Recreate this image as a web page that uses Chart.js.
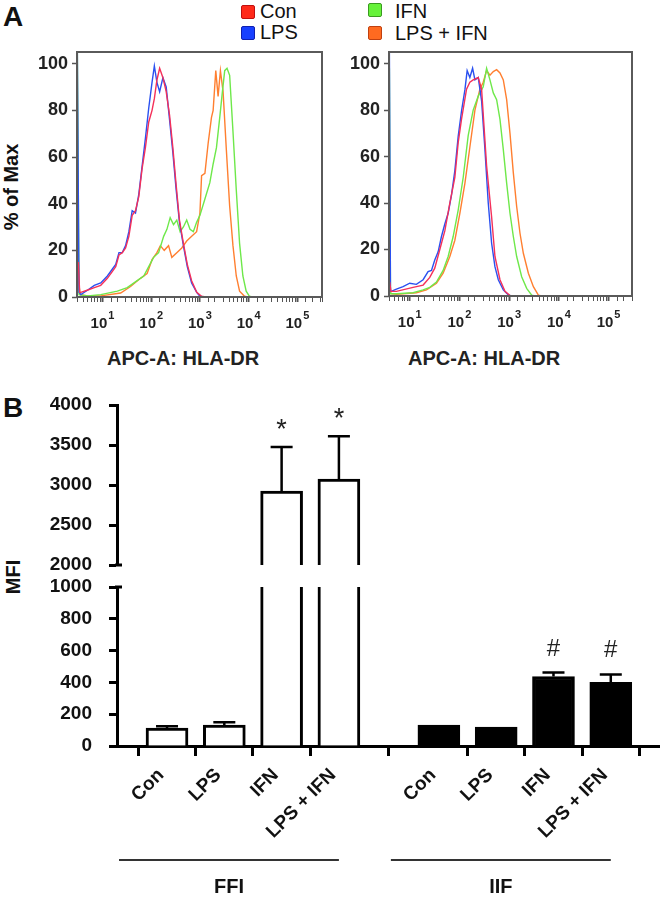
<!DOCTYPE html>
<html>
<head>
<meta charset="utf-8">
<script src="https://cdn.jsdelivr.net/npm/chart.js@4.4.1/dist/chart.umd.min.js"></script>
<style>
  body { margin: 0; background: #fff; font-family: "Liberation Sans", Arial, sans-serif; }
  #wrap { position: relative; width: 660px; height: 897px; overflow: hidden; background: #fff; }
  canvas { position: absolute; }
  .t { position: absolute; line-height: 1; white-space: nowrap; color: #111; }
  .b { font-weight: bold; }
  .sq { position: absolute; width: 12px; height: 12px; border-radius: 2px; }
  .rot { transform: translate(-50%, -50%) rotate(-90deg); }
</style>
</head>
<body>
<div id="wrap">
  <div class="t b" style="left:3px;top:3px;font-size:28px;">A</div>
  <div class="t b" style="left:3px;top:394px;font-size:28px;">B</div>

  <div class="sq" style="left:241px;top:5px;background:#ff2a1a;border:1px solid #c01010;"></div>
  <div class="t" style="left:260px;top:1px;font-size:20px;">Con</div>
  <div class="sq" style="left:241px;top:26px;background:#1840ff;border:1px solid #1020b0;"></div>
  <div class="t" style="left:260px;top:22px;font-size:20px;">LPS</div>
  <div class="sq" style="left:368px;top:3px;background:#66f23a;border:1px solid #3a9a20;"></div>
  <div class="t" style="left:395px;top:1px;font-size:20px;">IFN</div>
  <div class="sq" style="left:368px;top:26px;background:#ff6a20;border:1px solid #c04010;"></div>
  <div class="t" style="left:395px;top:23px;font-size:20px;">LPS + IFN</div>

  <div class="t b rot" style="left:11px;top:187px;font-size:20px;">% of Max</div>
  <div class="t b" style="left:107px;top:348px;font-size:20px;color:#222;">APC-A: HLA-DR</div>
  <div class="t b" style="left:408px;top:348px;font-size:20px;color:#222;">APC-A: HLA-DR</div>
  <div class="t b rot" style="left:13px;top:577px;font-size:20px;">MFI</div>

  <canvas id="histL" width="330" height="340" style="left:0;top:0;"></canvas>
  <canvas id="histR" width="330" height="340" style="left:330px;top:0;"></canvas>
  <canvas id="barTop" width="660" height="185" style="left:0;top:390px;"></canvas>
  <canvas id="barBottom" width="660" height="322" style="left:0;top:575px;"></canvas>
</div>
<script>
// ---- panel A: HLA-DR histograms, [intensity, % of max] ----
const histColors = { con: '#f4305a', lps: '#2a50f0', ifn: '#6ee84a', lpsIfn: '#ff7f30' };

const leftCon = [[3.2,15],[3.4,2],[3.6,2],[5.0,3],[6.8,4],[9.2,5],[12.6,8],[16,11],[18.7,13],[21.8,18],[25.5,19],[29.8,21],[34.8,26],[40.7,35],[47.6,37],[55.6,43],[65,55],[76,64],[89,75],[104,80],[116,85],[131,93],[149,98],[174,94],[203,88],[238,78],[278,64],[325,48],[380,33],[458,23],[550,14],[675,7],[860,2],[1080,0.3],[1300,0],[10000,0]];
const leftLps = [[3.05,105],[3.3,2],[3.6,1],[5.0,3],[6.8,5],[9.2,6],[12.6,9],[16,12],[18.7,14],[21.8,19],[25.5,19],[29.8,22],[34.8,28],[40.7,37],[47.6,36],[55.6,44],[65,56],[76,68],[89,81],[104,92],[116,99],[131,92],[149,88],[174,94],[203,90],[238,76],[278,62],[325,46],[380,32],[458,22],[550,13],[675,6],[860,2],[1000,0.3],[1200,0],[10000,0]];
const leftIfn = [[3.05,105],[3.3,1],[5,0.5],[9.2,1],[20.2,2.5],[32.2,4],[51.5,7],[70.3,9],[88.9,13],[112,17],[142,19],[180,26],[210,29],[245,34],[287,31],[335,33],[392,28],[458,30],[535,33],[626,29],[732,28],[855,32],[1000,35],[1265,42],[1597,49],[1867,57],[2183,64],[2552,77],[2893,88],[3224,97],[3597,98],[4074,95],[4763,71],[5569,46],[6512,23],[7610,9],[8895,2.5],[10400,0.3],[12000,0],[320000,0]];
const leftLpsIfn = [[3.2,7],[3.5,1],[5,0.5],[9.2,0.5],[23.6,1.7],[37.7,4.5],[60.2,8],[82.3,10],[104,16],[131,19],[154,22],[185,20],[227,22],[265,17],[335,19],[424,21],[535,24],[677,26],[855,28],[1000,36],[1081,52],[1265,53],[1477,66],[1726,77],[1867,80],[2115,97],[2359,86],[2633,97],[2985,88],[3487,63],[4074,39],[4763,22],[5569,9],[6512,2.5],[8230,0.3],[9500,0],[320000,0]];

const rightCon = [[3.95,6],[4.2,2],[5.39,2],[11.7,3.7],[18.6,4.7],[25.3,8],[31.9,12],[40.3,20],[50.8,28],[64.1,40],[80.9,51],[94.4,66],[110,76],[139,89],[162,92],[189,93],[239,94],[279,89],[352,56],[444,34],[518,17],[654,7],[824,2],[1040,0.2],[1200,0],[3000,0]];
const rightLps = [[3.9,105],[4.1,2],[4.27,2],[5.39,3],[7.35,4],[10,5.5],[13.6,5],[18.6,7],[23.4,10.5],[27.4,11],[31.9,15.5],[37.3,19],[43.5,25.6],[50.8,31],[59.3,35.6],[69.3,43.5],[80.9,54],[94.4,68.7],[110,79.5],[129,88.8],[143,97],[162,94],[184,98],[205,93],[239,94],[279,84],[326,63],[380,40],[444,22.7],[518,12.6],[605,7],[763,2.6],[962,0.5],[1100,0],[3000,0]];
const rightIfn = [[3.9,98],[4.1,1],[5.39,1],[11.7,1.4],[18.6,2.6],[25.3,3.7],[34.5,6],[47,11],[59.3,17],[74.8,25.6],[94.4,37],[119,51],[150,69],[189,80],[239,86],[301,90],[352,98],[411,93],[480,87.4],[560,84.5],[654,76],[763,63],[891,48.6],[1040,35.6],[1214,25.6],[1417,17],[1786,8.3],[2252,3.3],[2844,0.4],[3300,0],[300000,0]];
const rightLpsIfn = [[3.95,4],[4.2,1],[5.39,0.7],[13.6,1.4],[21.7,2.6],[34.5,5.5],[47,9.8],[64.1,17],[80.9,24],[102,35.6],[129,48.6],[162,64],[205,80],[258,89],[301,92],[352,97],[411,95],[480,96.6],[560,97.4],[654,96],[763,93],[891,84.5],[1040,70],[1214,53],[1417,38.5],[1653,27],[1930,18.4],[2437,9.8],[3072,4],[3873,0.4],[4500,0],[300000,0]];

const histYTicks = [0, 20, 40, 60, 80, 100];
const histDecades = [1, 2, 3, 4, 5];

// ---- panel B: MFI bars ----
const barCats = ['Con', 'LPS', 'IFN', 'LPS + IFN'];
const groups = ['FFI', 'IIF'];
const ffiMean = [112, 131, 2925, 3075];
const ffiErr = [13, 19, 550, 535];
const iifMean = [131, 119, 437, 400];
const iifErr = [0, 0, 25, 50];
const ffiMarks = ['', '', '*', '*'];
const iifMarks = ['', '', '#', '#'];
const groupFill = ['#ffffff', '#000000'];

Chart.defaults.font.family = '"Liberation Sans", Arial, sans-serif';
Chart.defaults.color = '#111';
const FONT = '"Liberation Sans", Arial, sans-serif';

const isDecade = v => v >= 10 && Math.abs(Math.log10(v) - Math.round(Math.log10(v))) < 1e-6;

const framePlugin = {
  id: 'frame',
  afterDatasetsDraw(chart) {
    const a = chart.chartArea, ctx = chart.ctx;
    ctx.save();
    ctx.strokeStyle = '#5a5a5a';
    ctx.lineWidth = 2;
    ctx.strokeRect(a.left, a.top, a.right - a.left, a.bottom - a.top);
    ctx.restore();
  }
};

// "10" with a raised exponent under each decade tick
const decadeLabels = {
  id: 'decadeLabels',
  afterDraw(chart) {
    const { ctx, chartArea: a, scales: { x } } = chart;
    ctx.save();
    ctx.fillStyle = '#222';
    ctx.textBaseline = 'alphabetic';
    ctx.textAlign = 'left';
    histDecades.forEach(d => {
      const px = x.getPixelForValue(Math.pow(10, d));
      ctx.font = 'bold 15px ' + FONT;
      const wBase = ctx.measureText('10').width;
      ctx.font = 'bold 11px ' + FONT;
      const wExp = ctx.measureText(String(d)).width;
      const x0 = px - (wBase + wExp + 1) / 2;
      ctx.font = 'bold 15px ' + FONT;
      ctx.fillText('10', x0, a.bottom + 31);
      ctx.font = 'bold 11px ' + FONT;
      ctx.fillText(String(d), x0 + wBase + 1, a.bottom + 22);
    });
    ctx.restore();
  }
};

function makeHist(id, series, xMin, xMax, yWidth, padRight, xHeight) {
  new Chart(document.getElementById(id), {
    type: 'line',
    data: {
      datasets: series.map(s => ({
        data: s.pts.map(p => ({ x: p[0], y: p[1] })),
        borderColor: s.color,
        borderWidth: 1.4,
        pointRadius: 0,
        fill: false,
        tension: 0
      }))
    },
    options: {
      responsive: false,
      animation: false,
      devicePixelRatio: 1,
      layout: { padding: { top: 52, right: padRight, left: 0, bottom: 0 } },
      plugins: { legend: { display: false }, tooltip: { enabled: false } },
      scales: {
        x: {
          type: 'logarithmic',
          min: xMin,
          max: xMax,
          afterFit: s => { s.height = xHeight; },
          border: { display: false },
          grid: {
            drawOnChartArea: false,
            tickLength: 5,
            tickColor: '#555',
            tickWidth: c => (c.tick && isDecade(c.tick.value)) ? 2 : 1
          },
          ticks: { autoSkip: false, maxRotation: 0, minRotation: 0, callback: () => '' }
        },
        y: {
          min: 0,
          max: 105,
          afterBuildTicks: s => { s.ticks = histYTicks.map(v => ({ value: v })); },
          afterFit: s => { s.width = yWidth; },
          border: { display: false },
          grid: { drawOnChartArea: false, tickLength: 5, tickColor: '#555', tickWidth: 1.5 },
          ticks: { padding: 4, color: '#222', font: { size: 18, weight: 'bold' } }
        }
      }
    },
    plugins: [framePlugin, decadeLabels]
  });
}

makeHist('histL', [
  { pts: leftCon, color: histColors.con },
  { pts: leftLps, color: histColors.lps },
  { pts: leftIfn, color: histColors.ifn },
  { pts: leftLpsIfn, color: histColors.lpsIfn }
], 3, 320000, 77, 8, 43);

makeHist('histR', [
  { pts: rightCon, color: histColors.con },
  { pts: rightLps, color: histColors.lps },
  { pts: rightIfn, color: histColors.ifn },
  { pts: rightLpsIfn, color: histColors.lpsIfn }
], 3.83, 296000, 59, 28, 44);

// bar slots: FFI at 0..3, IIF after a wider gap
const groupGap = 1.745;
const bars = [];
groups.forEach((g, gi) => {
  const means = gi === 0 ? ffiMean : iifMean;
  const errs = gi === 0 ? ffiErr : iifErr;
  const marks = gi === 0 ? ffiMarks : iifMarks;
  barCats.forEach((c, ci) => {
    bars.push({
      x: ci + gi * (barCats.length - 1 + groupGap),
      y: means[ci], err: errs[ci], mark: marks[ci], fill: groupFill[gi], label: c
    });
  });
});

const markOffset = { '*': 9, '#': 17 };

const errorPlugin = {
  id: 'errorBars',
  afterDatasetsDraw(chart) {
    const { ctx, scales: { x, y } } = chart;
    ctx.save();
    ctx.strokeStyle = '#000';
    ctx.lineWidth = 2.5;
    bars.forEach(b => {
      if (!b.err) return;
      const top = b.y + b.err;
      if (top < y.min || top > y.max) return;
      const px = x.getPixelForValue(b.x);
      const y0 = y.getPixelForValue(Math.max(b.y, y.min));
      const y1 = y.getPixelForValue(top);
      ctx.beginPath();
      ctx.moveTo(px, y0);
      ctx.lineTo(px, y1);
      ctx.moveTo(px - 11, y1);
      ctx.lineTo(px + 11, y1);
      ctx.stroke();
      if (b.mark) {
        ctx.fillStyle = '#222';
        ctx.font = (b.mark === '#' ? '24px ' : '27px ') + FONT;
        ctx.textAlign = 'center';
        ctx.textBaseline = 'alphabetic';
        ctx.fillText(b.mark, px, y1 - markOffset[b.mark]);
      }
    });
    ctx.restore();
  }
};

const breakPlugin = {
  id: 'axisBreak',
  afterDraw(chart) {
    const a = chart.chartArea, ctx = chart.ctx;
    const yb = chart.canvas.id === 'barTop' ? a.bottom : a.top;
    ctx.save();
    ctx.strokeStyle = '#000';
    ctx.lineWidth = 3;
    ctx.beginPath();
    ctx.moveTo(a.left - 2, yb);
    ctx.lineTo(a.left + 5, yb);
    ctx.stroke();
    ctx.restore();
  }
};

const groupPlugin = {
  id: 'groupLabels',
  afterDraw(chart) {
    const { ctx, chartArea: a, scales: { x } } = chart;
    ctx.save();
    groups.forEach((g, gi) => {
      const first = bars[gi * barCats.length], last = bars[gi * barCats.length + barCats.length - 1];
      const x1 = x.getPixelForValue(first.x) - 48;
      const x2 = x.getPixelForValue(last.x);
      ctx.strokeStyle = '#333';
      ctx.lineWidth = 2;
      ctx.beginPath();
      ctx.moveTo(x1, a.bottom + 114);
      ctx.lineTo(x2, a.bottom + 114);
      ctx.stroke();
      ctx.fillStyle = '#111';
      ctx.font = 'bold 20px ' + FONT;
      ctx.textAlign = 'center';
      ctx.textBaseline = 'middle';
      ctx.fillText(g, (x1 + x2) / 2, a.bottom + 141);
    });
    ctx.restore();
  }
};

function makeBars(id, yMin, yMax, step, padTop, padBottom, showX) {
  new Chart(document.getElementById(id), {
    type: 'bar',
    data: {
      datasets: [{
        data: bars.map(b => ({ x: b.x, y: b.y })),
        backgroundColor: bars.map(b => b.fill),
        borderColor: '#000',
        borderWidth: 3,
        borderSkipped: 'start',
        barThickness: 42,
        clip: 0
      }]
    },
    options: {
      responsive: false,
      animation: false,
      devicePixelRatio: 1,
      layout: { padding: { top: padTop, bottom: padBottom, left: 0, right: 0 } },
      plugins: { legend: { display: false }, tooltip: { enabled: false } },
      scales: {
        x: {
          type: 'linear',
          display: showX,
          offset: false,
          min: -0.873,
          max: 8.604,
          afterBuildTicks: s => { s.ticks = bars.map(b => ({ value: b.x })); },
          afterFit: s => { s.height = showX ? 151 : 0; },
          border: { color: '#000', width: 3 },
          grid: { drawOnChartArea: false, tickLength: 10, tickWidth: 3, tickColor: '#000' },
          ticks: {
            autoSkip: false,
            minRotation: 45,
            maxRotation: 45,
            padding: 8,
            labelOffset: -6,
            color: '#111',
            font: { size: 19, weight: 'bold' },
            callback: (v, i) => bars[i] ? bars[i].label : ''
          }
        },
        y: {
          min: yMin,
          max: yMax,
          ticks: { stepSize: step, padding: 17, color: '#111', font: { size: 19, weight: 'bold' }, callback: v => String(v) },
          // keep the plot area where the layout padding puts it
          afterFit: s => { s.width = 117; s.paddingTop = 0; s.paddingBottom = 0; },
          border: { color: '#000', width: 3 },
          grid: { drawOnChartArea: false, tickLength: 8, tickWidth: 3, tickColor: '#000' }
        }
      }
    },
    plugins: showX ? [errorPlugin, breakPlugin, groupPlugin] : [errorPlugin, breakPlugin]
  });
}

makeBars('barTop', 2000, 4000, 500, 15, 10, false);
makeBars('barBottom', 0, 1000, 200, 12, 0, true);
</script>
</body>
</html>
